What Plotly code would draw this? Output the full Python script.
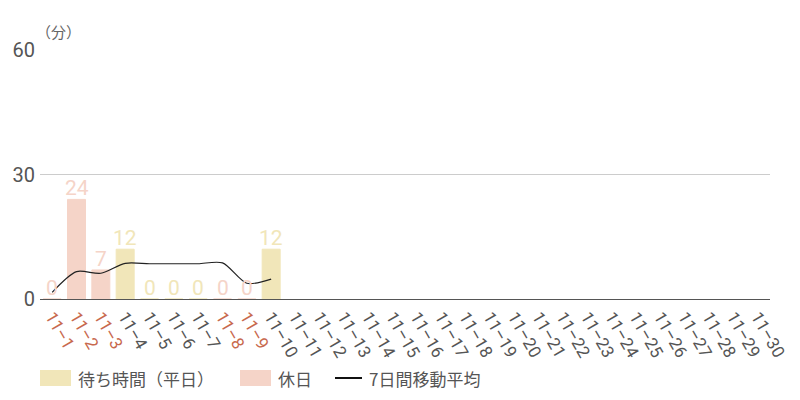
import plotly.graph_objects as go

dates = [f"11-{d}" for d in range(1, 31)]
holidays = ["11-1", "11-2", "11-3", "11-8", "11-9"]
weekday_vals = {"11-4": 12, "11-5": 0, "11-6": 0, "11-7": 0, "11-10": 12}
holiday_vals = {"11-1": 0, "11-2": 24, "11-3": 7, "11-8": 0, "11-9": 0}
ma_dates = ["11-1", "11-2", "11-3", "11-4", "11-5", "11-6", "11-7", "11-8", "11-9", "11-10"]
ma_vals = [1.6, 6.6, 6.2, 8.6, 8.5, 8.5, 8.5, 8.7, 3.8, 4.8]
y_ticks = [0, 30, 60]
series_names = ["待ち時間（平日）", "休日", "7日間移動平均"]

WEEKDAY_C = "#f1e6b9"
HOLIDAY_C = "#f5d4c8"
HOL_TICK_C = "#c8694d"
TICK_C = "#555555"
NUM_FONT = "Roboto, sans-serif"
CJK_FONT = "Noto Sans CJK JP, sans-serif"

wd_x = list(weekday_vals.keys())
wd_y = list(weekday_vals.values())
hd_x = list(holiday_vals.keys())
hd_y = list(holiday_vals.values())

fig = go.Figure()
fig.add_trace(go.Bar(
    x=wd_x, y=wd_y, name=series_names[0], showlegend=False,
    marker=dict(color=WEEKDAY_C, line=dict(width=1, color=WEEKDAY_C)),
    cliponaxis=False,
))
fig.add_trace(go.Bar(
    x=hd_x, y=hd_y, name=series_names[1], showlegend=False,
    marker=dict(color=HOLIDAY_C, line=dict(width=1, color=HOLIDAY_C)),
    cliponaxis=False,
))
fig.add_trace(go.Scatter(
    x=ma_dates, y=ma_vals, name=series_names[2], mode="lines", showlegend=False,
    line=dict(color="#222222", width=1.2, shape="spline", smoothing=0.8),
))

ticktext = [
    (f'<span style="color:{HOL_TICK_C}">{d.replace("-", "–")}</span>'
     if d in holidays else d.replace("-", "–"))
    for d in dates
]

# Legend built as swatches + text (paper coords; plot area spans 40..770 x 50..299 px)
def px_x(px):
    return (px - 40) / 730.0

def px_y(py):
    return (299 - py) / 249.0

shapes = [
    dict(type="rect", xref="paper", yref="paper", x0=px_x(40), x1=px_x(71),
         y0=px_y(386), y1=px_y(370), fillcolor=WEEKDAY_C, line=dict(width=0)),
    dict(type="rect", xref="paper", yref="paper", x0=px_x(240), x1=px_x(271),
         y0=px_y(386), y1=px_y(370), fillcolor=HOLIDAY_C, line=dict(width=0)),
    dict(type="line", xref="paper", yref="paper", x0=px_x(335), x1=px_x(362),
         y0=px_y(378), y1=px_y(378), line=dict(color="#111111", width=2)),
]
annotations = [
    dict(text="（分）", xref="paper", yref="paper", x=px_x(34), y=px_y(32),
         xanchor="left", yanchor="middle", showarrow=False,
         font=dict(size=15, color="#666666", family=CJK_FONT)),
]
for name, px in zip(series_names, [76, 276, 367]):
    annotations.append(dict(
        text=name, xref="paper", yref="paper", x=px_x(px), y=px_y(378),
        xanchor="left", yanchor="middle", showarrow=False,
        font=dict(size=17, color=TICK_C, family=CJK_FONT)))

# value labels above bars, placed in data coordinates
for xs, ys, col in [(wd_x, wd_y, WEEKDAY_C), (hd_x, hd_y, HOLIDAY_C)]:
    for xv, yv in zip(xs, ys):
        annotations.append(dict(
            text=str(yv), x=xv, y=yv, xref="x", yref="y",
            xanchor="center", yanchor="bottom", yshift=-3, showarrow=False,
            font=dict(size=21, color=col, family=NUM_FONT)))

fig.update_layout(
    width=800, height=400,
    margin=dict(l=40, r=30, t=50, b=101, autoexpand=False),
    plot_bgcolor="white", paper_bgcolor="white",
    barmode="overlay", bargap=0.26,
    font=dict(family=NUM_FONT, color=TICK_C, size=16),
    showlegend=False,
    xaxis=dict(
        type="category", categoryorder="array", categoryarray=dates,
        range=[-0.5, 29.5], automargin=False,
        tickvals=dates, ticktext=ticktext, tickangle=60,
        tickfont=dict(size=17, color=TICK_C, family=NUM_FONT),
        showgrid=False, showline=True, linecolor="#555555", linewidth=1,
        ticks="",
    ),
    yaxis=dict(
        range=[0, 60], tickvals=y_ticks, automargin=False,
        tickfont=dict(size=20, color=TICK_C, family=NUM_FONT),
        showgrid=True, gridcolor="#cccccc", gridwidth=1,
        zeroline=True, zerolinecolor="#555555", zerolinewidth=1,
        ticks="", ticklabelstandoff=4,
    ),
    shapes=shapes,
    annotations=annotations,
)

fig.write_html("out.html",
               config={"displayModeBar": False},
               post_script="document.body.style.margin='0';document.body.style.padding='0';")
